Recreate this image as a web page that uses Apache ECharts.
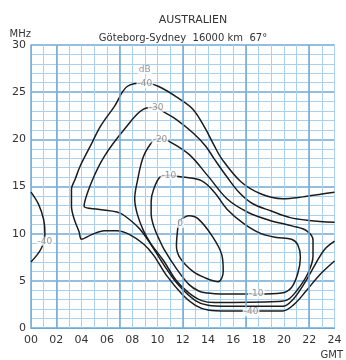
<!DOCTYPE html>
<html>
<head>
<meta charset="utf-8">
<script src="https://cdn.jsdelivr.net/npm/echarts@6/dist/echarts.min.js"></script>
<style>
  html, body { margin: 0; padding: 0; background: #fff; }
  #chart { width: 346px; height: 360px; }
</style>
</head>
<body>
<div id="chart"></div>
<script>
// tick labels
const hourTicks = ["00", "02", "04", "06", "08", "10", "12", "14", "16", "18", "20", "22", "24"]
const majorHourLines = [2, 7, 12, 17, 22]

// contour lines, [GMT hour, MHz]
const contourM40 = [
  [24, 14.4], [23, 14.2], [21.5, 13.9], [19.9, 13.7], [18.2, 14.2], [16.6, 15.5], [15.1, 17.9],
  [14.5, 19.3], [13.8, 21.1], [12.8, 23.2], [11.5, 24.5], [10.1, 25.6], [9, 26], [7.6, 25.6],
  [6.6, 23.5], [5.5, 21.4], [4.7, 19.3], [3.9, 17.2], [3.5, 15.8], [3.2, 14.7], [3.2, 12.9],
  [3.4, 11.6], [3.8, 10.2], [4, 9.4], [4.8, 9.9], [5.8, 10.3], [6.8, 10.3], [7.8, 9.9],
  [8.9, 8.9], [9.7, 7.7], [10.7, 5.6], [12, 3.5], [13, 2.4], [14, 1.9], [15.5, 1.8],
  [19.9, 1.8], [20.8, 2.5], [21.8, 4], [22.8, 5.6], [24, 7.1]
]
const contourM40Edge = [[0, 14.4], [0.6, 13.1], [1.0, 11.5], [1.1, 10], [0.8, 8.4], [0, 7.0]]
const contourM30 = [
  [24, 11.2], [22, 11.4], [20.5, 11.7], [19, 12.4], [17.5, 13.2], [16.5, 14.3], [15.5, 16],
  [14.5, 17.9], [13.8, 19.3], [12.8, 20.7], [11.5, 22.1], [10.5, 22.9], [9.9, 23.4], [8.9, 23.2],
  [7.4, 21.1], [5.8, 18.2], [4.8, 15.5], [4.2, 12.9], [5.3, 12.6], [6.8, 12.3], [7.4, 11.9],
  [8.6, 10.5], [9.7, 8.4], [10.7, 6.3], [11.7, 4.5], [13, 2.9], [14, 2.4], [15.5, 2.3],
  [19.9, 2.3], [20.7, 3], [21.6, 4.7], [22.5, 6.8], [23.2, 8.3], [24, 9.2]
]
const contourM20 = [
  [10.2, 20.1], [10.9, 19.8], [12.5, 18.4], [14, 16.1], [15.5, 13.7], [17.1, 12.3], [18.9, 11.4],
  [20.7, 10.8], [21.8, 10.3], [22.3, 9.3], [22.3, 7.6], [21.9, 5.8], [21.1, 4.1], [20.3, 3],
  [19.5, 2.8], [14.5, 2.7], [13.5, 2.9], [12.5, 3.7], [11.5, 5], [10.5, 7.1], [9.5, 8.9],
  [8.9, 10.3], [8.4, 12.1], [8.2, 13.7], [8.4, 15.5], [8.9, 18.2], [9.7, 19.9], [10.2, 20.1]
]
const contourM10 = [
  [10.9, 16.2], [12, 16.0], [13.5, 15.6], [14.5, 14.4], [15.5, 12.6], [16.8, 11.1], [18.2, 10.0],
  [19.4, 9.6], [20.6, 9.4], [21.1, 8.8], [21.3, 7.5], [21.1, 5.8], [20.6, 4.3], [19.8, 3.7],
  [18, 3.6], [15, 3.6], [14, 3.7], [13.3, 3.9], [12.5, 4.6], [11.5, 6.3], [10.5, 8.4],
  [10.1, 9.5], [9.7, 10.8], [9.5, 12.1], [9.5, 13.4], [9.7, 14.7], [10.2, 16], [10.9, 16.2]
]
const contour0 = [
  [11.7, 11.3], [12.5, 11.9], [13.2, 11.6], [14.3, 9.8], [15.1, 7.7], [15.2, 6.0], [14.8, 4.9],
  [13.8, 5.3], [12.8, 6.0], [11.8, 7.4], [11.5, 8.7], [11.6, 10.5], [11.7, 11.3]
]

// contour labels
const labelTexts = ["dB", "-40", "-30", "-20", "-10", "0", "-10", "-40", "-40"]
const labelPoints = [[9, 27.4], [9, 25.9], [9.9, 23.4], [10.2, 20], [10.9, 16.2], [11.8, 11.1], [17.8, 3.6], [17.4, 1.7], [1.1, 9.2]]

const chart = echarts.init(document.getElementById("chart"))

const gridMinor = "#a9d0ec"
const gridMajor = "#6fa9d6"
const ink = "#1c1c1c"
const font = "DejaVu Sans"

const contourSeries = (data) => ({
  type: "line",
  data: data,
  smooth: 0.35,
  symbol: "none",
  silent: true,
  lineStyle: { color: ink, width: 1.5 },
  z: 3,
})

chart.setOption({
  animation: false,
  backgroundColor: "#fff",
  title: [
    {
      text: "AUSTRALIEN",
      left: 188,
      top: 10,
      textAlign: "center",
      textStyle: { fontFamily: font, fontSize: 11, fontWeight: "normal", color: "#333" },
    },
    {
      text: "Göteborg-Sydney  16000 km  67°",
      left: 178,
      top: 28,
      textAlign: "center",
      textStyle: { fontFamily: font, fontSize: 10, fontWeight: "normal", color: "#333" },
    },
  ],
  grid: { left: 31, right: 3, top: 45, bottom: 30 },
  xAxis: {
    type: "value",
    min: 0,
    max: 24,
    interval: 2,
    name: "GMT",
    nameLocation: "end",
    nameGap: -14,
    nameTextStyle: { fontFamily: font, fontSize: 10, color: "#333", align: "left", verticalAlign: "top", padding: [22, 0, 0, 0] },
    axisLine: { lineStyle: { color: gridMajor, width: 1 } },
    axisTick: { show: false },
    axisLabel: {
      fontFamily: font,
      fontSize: 11,
      color: "#333",
      margin: 7,
      formatter: (v) => hourTicks[Math.round(v / 2)],
    },
    splitLine: { show: true, lineStyle: { color: gridMinor, width: 1 } },
    minorTick: { show: false, splitNumber: 2 },
    minorSplitLine: { show: true, lineStyle: { color: gridMinor, width: 1 } },
  },
  yAxis: {
    type: "value",
    min: 0,
    max: 30,
    interval: 5,
    name: "MHz",
    nameLocation: "end",
    nameGap: 6,
    nameTextStyle: { fontFamily: font, fontSize: 10, color: "#333", align: "right" },
    axisLine: { show: true, lineStyle: { color: gridMajor, width: 1.5 } },
    axisTick: { show: false },
    axisLabel: { fontFamily: font, fontSize: 11, color: "#333", margin: 5 },
    splitLine: { show: true, lineStyle: { color: gridMajor, width: 1.5 } },
    minorTick: { show: false, splitNumber: 5 },
    minorSplitLine: { show: true, lineStyle: { color: gridMinor, width: 1 } },
  },
  series: [
    {
      type: "line",
      data: [],
      silent: true,
      markLine: {
        symbol: "none",
        silent: true,
        label: { show: false },
        lineStyle: { color: gridMajor, width: 1.5, type: "solid" },
        data: majorHourLines.map((h) => ({ xAxis: h })),
      },
      z: 1,
    },
    contourSeries(contourM40),
    contourSeries(contourM40Edge),
    contourSeries(contourM30),
    contourSeries(contourM20),
    contourSeries(contourM10),
    contourSeries(contour0),
    {
      type: "scatter",
      data: labelPoints.map((p, i) => ({ value: p, name: labelTexts[i] })),
      symbol: "circle",
      symbolSize: 2,
      itemStyle: { color: "rgba(255,255,255,0)" },
      silent: true,
      z: 5,
      label: {
        show: true,
        position: "inside",
        formatter: "{b}",
        fontFamily: font,
        fontSize: 9,
        color: "#7a7a7a",
        backgroundColor: "#fff",
        padding: [0, 1],
      },
      labelLayout: { hideOverlap: false },
    },
  ],
})
</script>
</body>
</html>
